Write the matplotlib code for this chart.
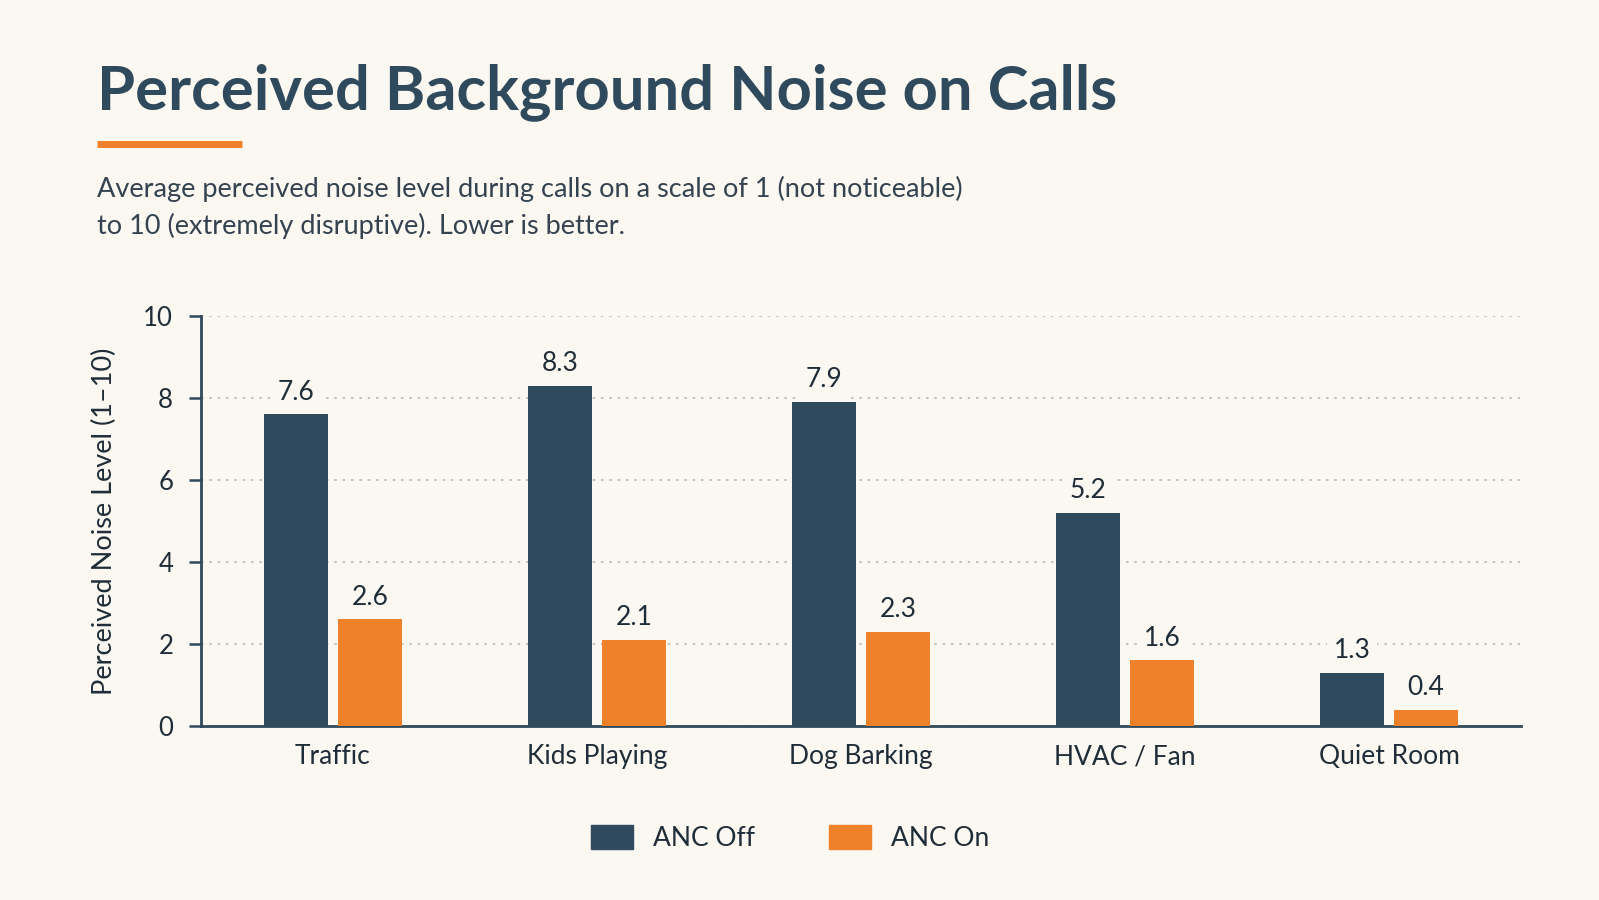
import numpy as np
import matplotlib.pyplot as plt
from matplotlib.patches import Patch

# data
categories = ['Traffic', 'Kids Playing', 'Dog Barking', 'HVAC / Fan', 'Quiet Room']
anc_off = [7.6, 8.3, 7.9, 5.2, 1.3]
anc_on = [2.6, 2.1, 2.3, 1.6, 0.4]
series_names = ['ANC Off', 'ANC On']

BG = '#fbf8f2'
DARK = '#2f4a5c'
ORANGE = '#f0812b'
TEXT = '#1f2d38'

plt.rcParams['font.family'] = ['Lato', 'DejaVu Sans']

fig = plt.figure(figsize=(15.99, 9), dpi=100, facecolor=BG)
ax = fig.add_axes([0.1257, 0.1933, 0.8255, 0.4556], facecolor=BG)

x = np.arange(len(categories))
w = 0.24
off = 0.14
b1 = ax.bar(x - off, anc_off, w, color=DARK, zorder=3)
b2 = ax.bar(x + off, anc_on, w, color=ORANGE, zorder=3)

for bars in (b1, b2):
    for r in bars:
        h = r.get_height()
        ax.annotate(f'{h:.1f}', (r.get_x() + r.get_width() / 2, h),
                    xytext=(0, 7), textcoords='offset points',
                    ha='center', va='bottom', fontsize=19, color=TEXT, zorder=4,
                    bbox=dict(boxstyle='square,pad=0.25', fc=BG, ec='none'))

ax.set_xlim(-0.5, 4.5)
ax.set_ylim(0, 10)
ax.set_yticks([0, 2, 4, 6, 8, 10])
ax.set_xticks(x)
ax.set_xticklabels(categories, fontsize=19, color=TEXT)
ax.tick_params(axis='x', length=0, pad=13)
ax.tick_params(axis='y', length=9, width=1.8, color=DARK, labelsize=18.5,
               labelcolor=TEXT, pad=11)
ax.yaxis.grid(True, linestyle=(0, (1.5, 3.5)), color='#b8b8b8', linewidth=1.2, zorder=0)
ax.set_axisbelow(True)
for s in ('top', 'right'):
    ax.spines[s].set_visible(False)
for s in ('left', 'bottom'):
    ax.spines[s].set_color(DARK)
    ax.spines[s].set_linewidth(2)
ax.set_ylabel('Perceived Noise Level (1–10)', fontsize=19.5, color=TEXT, labelpad=19)

# title block
fig.text(0.0607, 0.898, 'Perceived Background Noise on Calls', fontsize=44.3,
         fontweight='bold', color=DARK, va='center', ha='left')
fig.add_artist(plt.Line2D([0.0607, 0.1513], [0.840, 0.840], color=ORANGE,
                          linewidth=5, solid_capstyle='butt'))
fig.text(0.0607, 0.790, 'Average perceived noise level during calls on a scale of 1 (not noticeable)',
         fontsize=19.5, color='#34434f', va='center', ha='left')
fig.text(0.0607, 0.749, 'to 10 (extremely disruptive). Lower is better.',
         fontsize=19.5, color='#34434f', va='center', ha='left')

handles = [Patch(color=DARK, label=series_names[0]), Patch(color=ORANGE, label=series_names[1])]
fig.legend(handles=handles, loc='center', bbox_to_anchor=(0.494, 0.069), ncol=2,
           frameon=False, fontsize=19, handlelength=1.6, handleheight=1.0,
           handletextpad=0.75, columnspacing=2.8, labelcolor=TEXT)

fig.savefig('out.png', dpi=100, facecolor=BG)
